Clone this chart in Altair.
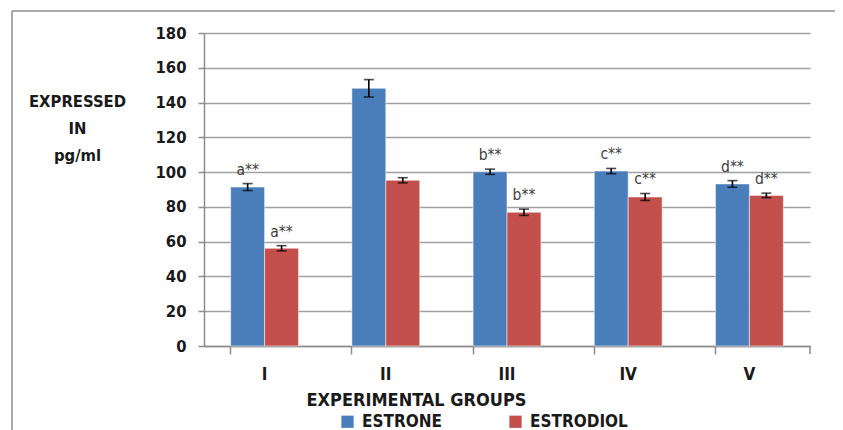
import altair as alt
import pandas as pd

groups = ["I", "II", "III", "IV", "V"]
series = ["ESTRONE", "ESTRODIOL"]
estrone = [91.4, 148.2, 100.2, 100.6, 93.2]
estrone_err = [2.0, 5.0, 1.5, 1.5, 1.9]
estrodiol = [56.2, 95.3, 76.9, 85.7, 86.6]
estrodiol_err = [1.5, 1.5, 1.8, 2.0, 1.3]
estrone_lbl = ["a**", "", "b**", "c**", "d**"]
estrodiol_lbl = ["a**", "", "b**", "c**", "d**"]
y_ticks = [0, 20, 40, 60, 80, 100, 120, 140, 160, 180]

rows = []
for s, vals, errs, lbls in [("ESTRONE", estrone, estrone_err, estrone_lbl),
                            ("ESTRODIOL", estrodiol, estrodiol_err, estrodiol_lbl)]:
    for g, v, e, l in zip(groups, vals, errs, lbls):
        rows.append({"group": g, "series": s, "value": v,
                     "lo": v - e, "hi": v + e, "label": l})
df = pd.DataFrame(rows)

FONT = "DejaVu Sans Condensed, DejaVu Sans"
W, H = 606, 313
TXT = "#1a1a1a"
AX = "#8c8c8c"

xscale = alt.Scale(paddingInner=0.44, paddingOuter=0.22)
xaxis = alt.Axis(title="EXPERIMENTAL  GROUPS", labelAngle=0,
                 labelFont=FONT, labelFontSize=17, labelFontWeight="bold",
                 labelColor=TXT, labelPadding=12,
                 bandPosition=0, tickSize=8, tickColor=AX, tickWidth=1.5,
                 domainColor=AX, domainWidth=1.5,
                 titleFont=FONT, titleFontSize=18, titleFontWeight="bold",
                 titleColor=TXT, titleX=212, titleY=54,
                 titleAlign="center", titleBaseline="middle", grid=False)
yscale = alt.Scale(domain=[0, 180], nice=False)
yaxis = alt.Axis(values=y_ticks, title=["EXPRESSED", "IN", "pg/ml"],
                 labelOverlap=False, labelFlush=False,
                 titleAngle=0, titleX=-127, titleY=68, titleAlign="center",
                 titleBaseline="middle", titleLineHeight=27,
                 titleFont=FONT, titleFontSize=16.5, titleFontWeight="bold",
                 titleColor=TXT,
                 labelFont=FONT, labelFontSize=16.5, labelFontWeight="bold",
                 labelColor=TXT, labelPadding=12,
                 tickSize=6, tickColor=AX, tickWidth=1.5,
                 domainColor=AX, domainWidth=1.5,
                 grid=True, gridColor="#a0a0a0", gridWidth=1.6)


def X():
    return alt.X("group:N", sort=groups, scale=xscale, axis=xaxis)


def Y(field):
    return alt.Y(field, type="quantitative", scale=yscale, axis=yaxis)


xo = alt.XOffset("series:N", sort=series, scale=alt.Scale(paddingInner=0, paddingOuter=0))

base = alt.Chart(df)

bars = base.mark_bar(strokeWidth=1, strokeOpacity=0.5, stroke="white").encode(
    x=X(), xOffset=xo, y=Y("value"),
    color=alt.Color("series:N", sort=series,
                    scale=alt.Scale(domain=series, range=["#4a7ebb", "#c4504e"]),
                    legend=alt.Legend(title=None, orient="none", legendX=135, legendY=380,
                                      direction="horizontal", columns=2, columnPadding=65,
                                      symbolType="square", symbolSize=150,
                                      symbolStrokeWidth=0, symbolOpacity=1,
                                      labelFont=FONT, labelFontSize=17,
                                      labelFontWeight="bold", labelColor=TXT,
                                      labelOffset=6)),
)

err = base.mark_rule(color="black", strokeWidth=1.6).encode(
    x=X(), xOffset=xo, y=Y("lo"), y2="hi:Q")
cap_lo = base.mark_tick(color="black", thickness=1.6, size=10, orient="horizontal").encode(
    x=X(), xOffset=xo, y=Y("lo"))
cap_hi = base.mark_tick(color="black", thickness=1.6, size=10, orient="horizontal").encode(
    x=X(), xOffset=xo, y=Y("hi"))
txt = base.mark_text(font=FONT, fontSize=15.5, color="#404040", baseline="alphabetic",
                     dy=-9).encode(
    x=X(), xOffset=xo, y=Y("hi"), text="label:N")

one = alt.Data(values=[{}])
end_tick = alt.Chart(one).mark_rule(color=AX, strokeWidth=1.5).encode(
    x=alt.value(W), y=alt.value(H), y2=alt.value(H + 8))
frame_top = alt.Chart(one).mark_rule(color=AX, strokeWidth=1.5).encode(
    x=alt.value(-192), x2=alt.value(660), y=alt.value(-22))
frame_left = alt.Chart(one).mark_rule(color=AX, strokeWidth=1.5).encode(
    x=alt.value(-192), y=alt.value(-22), y2=alt.value(420))

chart = alt.layer(bars, err, cap_lo, cap_hi, txt, end_tick, frame_top, frame_left).properties(
    width=W, height=H,
    autosize=alt.AutoSizeParams(type="none"),
    padding={"left": 196, "top": 25, "right": 25, "bottom": 84},
    background="white",
).configure_view(stroke=None)

chart.save("out.html", embed_options={"renderer": "svg", "actions": False})
